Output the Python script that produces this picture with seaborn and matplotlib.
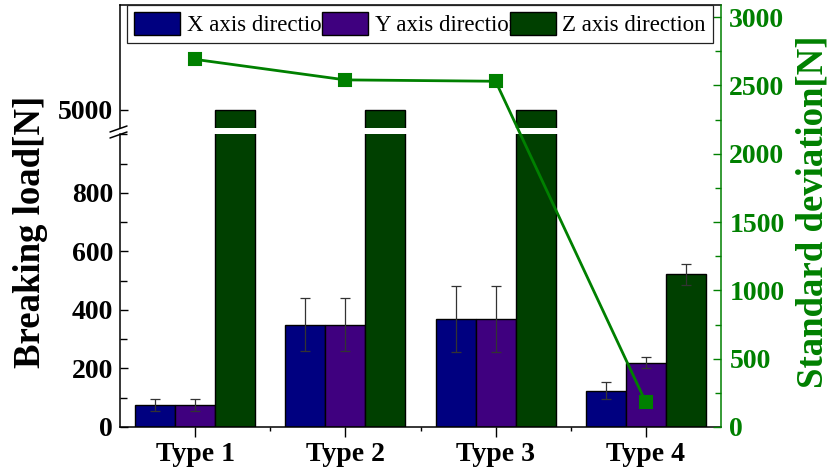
import matplotlib.pyplot as plt
import seaborn as sns
import pandas as pd
from matplotlib.ticker import MultipleLocator, FixedLocator
from matplotlib.lines import Line2D

types = ['Type 1', 'Type 2', 'Type 3', 'Type 4']
directions = ['X axis direction', 'Y axis direction', 'Z axis direction']

x_load = [75, 350, 368, 124]
x_err = [20, 90, 113, 29]
y_load = [75, 350, 368, 220]
y_err = [20, 90, 113, 20]
z_load = [5000, 5000, 5000, 522]
z_err = [0, 0, 0, 36]
std_dev = [2690, 2540, 2530, 180]

df = pd.DataFrame({
    'type': types * 3,
    'direction': [d for d in directions for _ in types],
    'load': x_load + y_load + z_load,
})
errs = [x_err, y_err, z_err]

colors = ['#000080', '#3f007f', '#004000']
green = '#008000'

sns.set_theme(style='ticks')
plt.rcParams['font.family'] = ['Liberation Serif', 'DejaVu Serif']
plt.rcParams.update({'text.color': 'black', 'axes.labelcolor': 'black',
                     'xtick.color': 'black', 'ytick.color': 'black'})

fig = plt.figure(figsize=(8.34, 4.75), dpi=100)
W, H = 834, 475
def fy(py):
    return 1 - py / H

L, R = 120 / W, 721 / W
ax_low = fig.add_axes([L, fy(427), R - L, fy(134.3) - fy(427)])
ax_up = fig.add_axes([L, fy(128.3), R - L, fy(5) - fy(128.3)])
ax_r = fig.add_axes([L, fy(427), R - L, fy(5) - fy(427)])

for ax in (ax_low, ax_up):
    sns.barplot(data=df, x='type', y='load', hue='direction', hue_order=directions,
                palette=colors, saturation=1, errorbar=None, width=0.8,
                edgecolor='black', linewidth=1, legend=False, ax=ax)
    bars = list(ax.containers[:3])
    for cont, err in zip(bars, errs):
        xs = [b.get_x() + b.get_width() / 2 for b, e in zip(cont, err) if e > 0]
        hs = [b.get_height() for b, e in zip(cont, err) if e > 0]
        ee = [e for e in err if e > 0]
        ax.errorbar(xs, hs, yerr=ee, fmt='none', ecolor='#333333',
                    elinewidth=0.9, capsize=3.5, capthick=0.9)
    ax.set_xlim(-0.5, 3.5)
    ax.set_xlabel('')
    ax.set_ylabel('')
    for s in ax.spines.values():
        s.set_color('black')
        s.set_linewidth(1.1)
    ax.spines['right'].set_visible(False)

ax_low.set_ylim(0, 1000)
ax_low.spines['top'].set_visible(False)
ax_low.set_yticks([0, 200, 400, 600, 800], labels=['0', '200', '400', '600', '800'],
                  fontweight='bold', fontsize=20)
ax_low.yaxis.set_minor_locator(MultipleLocator(100))
ax_low.set_xticks(range(4), labels=types, fontweight='bold', fontsize=20)
ax_low.xaxis.set_minor_locator(FixedLocator([0.5, 1.5, 2.5]))
ax_low.tick_params(axis='y', which='both', direction='in', width=1)
ax_low.tick_params(axis='y', which='major', length=6, pad=5)
ax_low.tick_params(axis='y', which='minor', length=5)
ax_low.tick_params(axis='x', which='major', direction='out', length=7, width=1, pad=4)
ax_low.tick_params(axis='x', which='minor', direction='out', length=3, width=1)

ax_up.set_ylim(4936, 5357)
ax_up.spines['bottom'].set_visible(False)
ax_up.set_yticks([5000], labels=['5000'], fontweight='bold', fontsize=20)
ax_up.tick_params(axis='y', direction='in', length=6, width=1, pad=5)
ax_up.tick_params(axis='x', bottom=False, labelbottom=False)

# standard deviation line on the right axis
sns.pointplot(x=types, y=std_dev, color=green, markers='s', markersize=9,
              linewidth=2, errorbar=None, ax=ax_r)
ax_r.set_xlim(-0.5, 3.5)
ax_r.set_ylim(0, 3088)
ax_r.patch.set_visible(False)
for side in ['left', 'top', 'bottom']:
    ax_r.spines[side].set_visible(False)
ax_r.spines['right'].set_color(green)
ax_r.spines['right'].set_linewidth(1.1)
ax_r.yaxis.tick_right()
ax_r.set_yticks(range(0, 3001, 500), labels=[str(v) for v in range(0, 3001, 500)],
                fontweight='bold', fontsize=20, color=green)
ax_r.yaxis.set_minor_locator(MultipleLocator(250))
ax_r.tick_params(axis='y', which='both', direction='in', color=green, width=1)
ax_r.tick_params(axis='y', which='major', length=6, pad=6)
ax_r.tick_params(axis='y', which='minor', length=4)
ax_r.tick_params(axis='x', bottom=False, labelbottom=False)
ax_r.set_xlabel('')
ax_r.set_ylabel('')

leg = ax_r.legend(list(ax_low.containers[:3]), directions, loc='upper left',
                  bbox_to_anchor=(7 / 601, 1.0), ncol=3, fontsize=16.5,
                  columnspacing=-0.45, handlelength=2.0, handleheight=1.2,
                  handletextpad=0.3, borderpad=0.3, borderaxespad=0,
                  frameon=True, fancybox=False, edgecolor='#222222', framealpha=1)
leg.get_frame().set_linewidth(0.9)

# axis break marks
for y0 in (132, 138):
    fig.add_artist(Line2D([110 / W, 127 / W], [fy(y0), fy(y0 - 6)],
                          transform=fig.transFigure, color='black', lw=1.1))

fig.text(31 / W, fy(232), 'Breaking load[N]', rotation=90, ha='center', va='center',
         fontsize=26.5, fontweight='bold')
fig.text(813 / W, fy(212), 'Standard deviation[N]', rotation=90, ha='center', va='center',
         fontsize=26.5, fontweight='bold', color=green)

fig.savefig('out.png', dpi=100)
